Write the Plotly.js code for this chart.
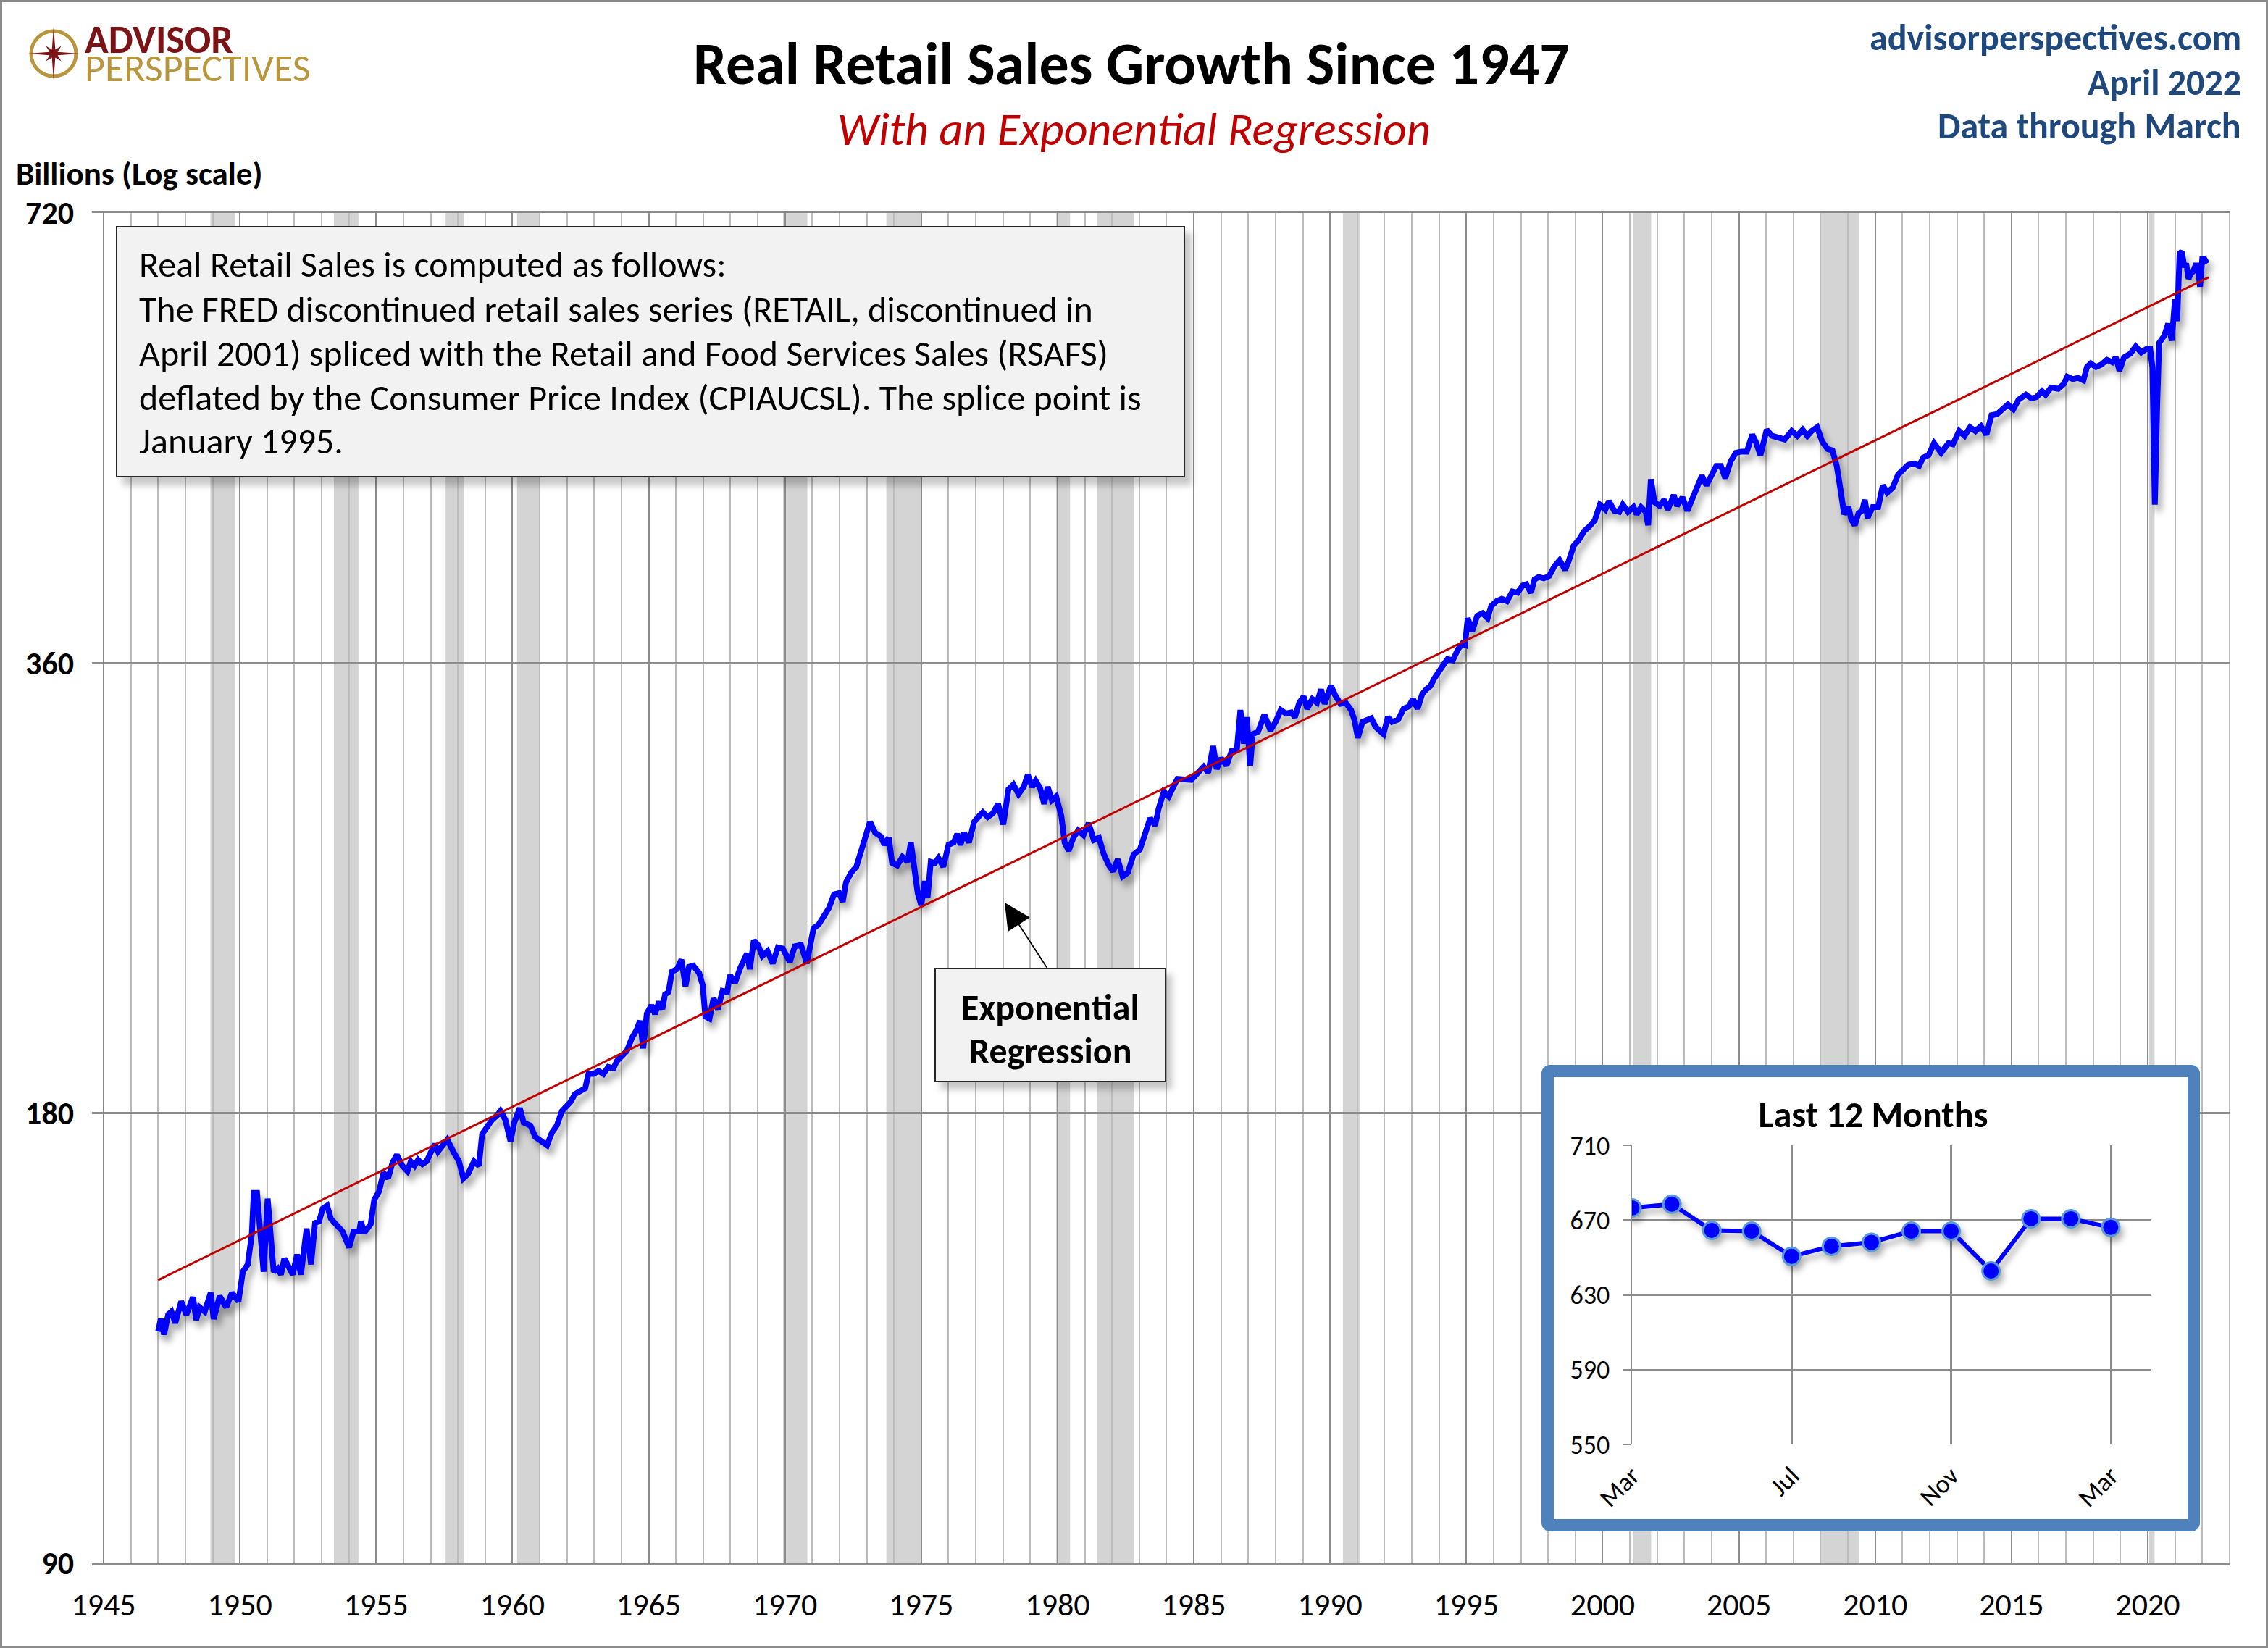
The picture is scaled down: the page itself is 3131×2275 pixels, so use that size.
<!DOCTYPE html>
<html><head><meta charset="utf-8">
<script src="https://cdn.plot.ly/plotly-3.0.1.min.js"></script>
<style>
html,body{margin:0;padding:0;background:#fff;}
#wrap{position:relative;width:3131px;height:2275px;overflow:hidden;background:#fff;}
#main{position:absolute;left:0;top:0;width:3131px;height:2275px;}
#inset{position:absolute;left:2128px;top:1470px;width:909px;height:644px;box-sizing:border-box;border:17px solid #4F81BD;border-radius:12px;background:#fff;}
#frame{position:absolute;left:0;top:0;width:3131px;height:2275px;box-sizing:border-box;border:3px solid #8C8C8C;pointer-events:none;}
</style></head>
<body>
<div id="wrap"><div id="main"></div><div id="inset"></div><div id="frame"></div></div>
<script>
// ---------------- DATA ----------------
const years = [
1947.00,1947.10,1947.22,1947.37,1947.49,1947.63,1947.85,1948.04,1948.28,1948.40,1948.52,1948.71,1948.93,1949.04,1949.26,1949.50,1949.71,1949.95,
1950.11,1950.29,1950.44,1950.51,1950.63,1950.76,1950.87,1951.02,1951.12,1951.24,1951.39,1951.51,1951.63,1951.78,1951.94,1952.10,1952.24,1952.45,1952.61,1952.76,1952.91,
1953.04,1953.20,1953.34,1953.59,1953.77,1954.01,1954.17,1954.38,1954.44,1954.56,1954.80,1954.93,1955.11,1955.27,1955.44,1955.60,1955.76,1955.96,
1956.15,1956.27,1956.41,1956.54,1956.70,1956.85,1957.00,1957.15,1957.27,1957.43,1957.61,1957.85,1958.04,1958.20,1958.37,1958.59,1958.77,1958.89,
1959.07,1959.26,1959.44,1959.56,1959.74,1959.93,1960.07,1960.27,1960.41,1960.66,1960.84,1961.09,1961.27,1961.45,1961.63,1961.82,1961.98,
1962.12,1962.30,1962.49,1962.67,1962.79,1962.98,1963.16,1963.34,1963.52,1963.71,1963.83,1964.01,1964.20,1964.38,1964.56,1964.68,1964.80,1964.93,
1965.10,1965.23,1965.38,1965.50,1965.60,1965.73,1965.85,1966.04,1966.20,1966.35,1966.48,1966.63,1966.85,1966.98,1967.08,1967.23,1967.38,1967.54,1967.71,1967.88,1967.98,
1968.17,1968.36,1968.61,1968.71,1968.86,1969.01,1969.17,1969.36,1969.55,1969.74,1969.92,1970.18,1970.36,1970.59,1970.80,1970.93,
1971.05,1971.24,1971.43,1971.62,1971.80,1971.99,1972.12,1972.24,1972.43,1972.62,1972.81,1972.97,1973.12,1973.31,1973.52,1973.65,1973.81,1973.93,
1974.12,1974.31,1974.50,1974.62,1974.75,1974.87,1975.00,1975.13,1975.23,1975.35,1975.50,1975.63,1975.81,1976.00,1976.19,1976.32,1976.44,1976.57,1976.75,1976.94,
1977.13,1977.26,1977.44,1977.63,1977.82,1978.01,1978.20,1978.38,1978.57,1978.76,1978.91,1979.07,1979.20,1979.36,1979.51,1979.64,1979.79,1979.95,
1980.14,1980.26,1980.41,1980.58,1980.76,1980.95,1981.14,1981.33,1981.52,1981.70,1981.89,1982.04,1982.21,1982.39,1982.58,1982.79,
1983.02,1983.21,1983.40,1983.58,1983.71,1983.90,1984.08,1984.25,1984.40,1984.91,
1985.10,1985.36,1985.53,1985.71,1985.84,1986.00,1986.20,1986.39,1986.58,1986.71,1986.84,1986.94,1987.07,1987.16,1987.36,1987.59,1987.81,
1988.00,1988.19,1988.38,1988.58,1988.71,1988.87,1989.03,1989.16,1989.35,1989.52,1989.67,1989.80,1990.03,1990.19,1990.38,1990.57,1990.77,1990.89,
1991.02,1991.19,1991.34,1991.51,1991.67,1991.80,1991.96,1992.12,1992.27,1992.50,1992.70,1992.89,1993.04,1993.21,1993.38,1993.53,1993.69,1993.82,1993.98,
1994.15,1994.31,1994.50,1994.69,1994.85,1994.95,1995.05,1995.21,1995.40,1995.59,1995.78,1995.91,1996.11,1996.30,1996.49,1996.69,1996.88,
1997.07,1997.20,1997.37,1997.50,1997.65,1997.84,1998.04,1998.23,1998.42,1998.62,1998.75,1998.94,1999.13,1999.32,1999.52,1999.71,1999.90,
2000.10,2000.23,2000.42,2000.61,2000.74,2000.93,2001.13,2001.25,2001.41,2001.58,2001.67,2001.77,2001.90,2002.09,2002.26,2002.39,2002.61,2002.73,2002.93,
2003.11,2003.31,2003.51,2003.64,2003.81,2003.97,2004.17,2004.34,2004.50,2004.70,2004.89,2005.09,2005.29,2005.49,2005.62,2005.79,
2006.02,2006.22,2006.41,2006.68,2006.94,2007.14,2007.34,2007.51,2007.67,2007.87,2008.06,2008.26,2008.43,2008.59,2008.73,2008.86,
2009.02,2009.12,2009.25,2009.39,2009.52,2009.62,2009.72,2009.91,2010.11,2010.28,2010.44,2010.64,2010.84,2011.00,2011.21,2011.43,2011.61,2011.76,2011.96,
2012.16,2012.42,2012.69,2012.85,2013.08,2013.28,2013.48,2013.68,2013.88,2014.08,2014.27,2014.47,2014.67,2014.87,
2015.07,2015.26,2015.53,2015.73,2015.92,2016.12,2016.25,2016.45,2016.72,2016.92,2017.05,2017.25,2017.44,2017.64,2017.77,2017.91,
2018.10,2018.30,2018.50,2018.70,2018.83,2018.96,2019.13,2019.36,2019.56,2019.76,2019.95,2020.09,2020.17,2020.26,2020.35,2020.42,2020.61,2020.75,2020.88,
2021.00,2021.08,2021.17,2021.25,2021.33,2021.42,2021.50,2021.58,2021.67,2021.75,2021.83,2021.92,2022.00,2022.08,2022.17
];
const sales = [
128.6,131.1,128.0,132.0,132.6,130.3,134.7,132.0,135.6,130.9,133.5,132.6,136.5,131.1,135.8,133.5,136.5,134.7,
141.0,142.6,149.4,159.2,159.2,150.0,141.0,157.8,151.4,141.0,141.7,140.4,143.9,142.3,140.4,144.8,140.4,150.7,142.6,152.0,152.4,
155.4,156.1,153.0,151.0,150.0,146.4,150.0,150.0,152.4,149.7,151.7,157.5,159.6,164.2,162.8,166.8,168.8,166.0,
164.6,167.1,166.0,167.5,166.4,167.1,169.4,171.6,169.7,171.3,172.8,169.4,167.1,162.8,163.9,167.1,166.0,174.3,
176.2,178.2,179.4,180.6,178.2,172.4,177.4,181.4,177.4,176.6,173.5,172.0,171.3,174.7,176.6,180.6,181.7,
183.0,185.4,186.2,187.0,191.2,191.2,192.1,191.2,193.3,192.9,195.0,196.3,198.1,202.0,204.7,207.5,198.9,209.8,
212.5,209.7,213.7,211.3,216.1,216.9,223.8,224.7,228.0,218.9,225.5,225.9,223.4,219.3,208.9,208.2,214.8,211.3,217.3,216.9,222.6,
220.1,225.1,230.2,224.7,234.9,233.2,229.3,231.0,226.7,232.3,231.9,227.2,232.7,233.2,226.7,232.3,
239.3,240.7,244.3,247.0,252.1,252.6,249.3,256.8,260.7,263.1,270.1,277.2,281.9,277.2,275.6,272.1,275.1,264.6,
263.6,267.1,265.1,273.1,261.2,252.6,247.9,257.3,250.7,265.1,264.6,266.6,263.1,272.1,273.1,276.7,272.1,277.2,273.1,281.9,
284.5,286.1,284.0,285.6,289.8,280.8,296.4,298.6,294.2,297.5,303.1,297.5,300.3,296.9,289.8,297.5,291.5,293.1,
284.5,273.1,269.6,275.1,278.2,276.2,281.3,274.1,275.1,268.1,263.6,261.2,266.1,259.2,260.7,268.1,
270.1,277.2,283.5,280.3,287.7,295.3,293.1,297.5,301.2,300.7,
303.5,306.9,304.1,316.8,305.8,310.9,307.5,314.4,315.0,334.9,318.0,331.2,307.5,322.7,323.9,332.5,324.5,
328.8,334.9,333.1,333.7,331.2,338.7,341.9,335.6,340.6,338.7,345.7,338.1,347.6,342.5,338.1,338.7,334.9,330.0,
320.9,328.8,330.0,330.6,326.3,324.5,322.7,331.2,328.8,330.0,335.6,336.8,340.6,335.6,343.2,345.7,347.6,351.5,355.5,
358.8,362.2,361.5,367.6,371.0,370.3,385.8,378.0,387.2,388.7,385.8,393.0,396.0,397.4,396.0,401.9,401.2,
405.7,406.4,401.2,409.4,411.0,410.2,411.7,417.9,421.8,415.6,421.0,431.3,435.3,441.0,444.4,448.5,459.4,
456.0,462.0,455.2,454.4,459.4,454.4,457.7,452.7,457.7,454.4,445.1,477.8,461.2,458.6,462.9,456.0,466.3,458.6,464.6,
455.2,464.6,475.1,480.4,473.3,479.5,487.7,487.7,478.6,491.3,497.7,498.6,498.6,511.8,506.1,495.9,
515.6,510.8,509.9,508.0,514.6,510.8,515.6,510.8,514.6,517.6,506.1,500.5,499.5,487.7,469.8,452.7,
457.8,449.3,445.2,453.5,455.2,462.9,450.1,457.8,457.8,473.3,468.1,471.6,481.3,484.0,488.5,489.5,487.7,494.0,495.9,
505.1,497.7,505.1,504.2,514.6,510.8,517.6,514.6,518.5,511.8,527.3,528.2,532.2,536.1,
532.2,540.1,544.2,541.1,542.2,547.2,544.2,550.2,549.2,553.3,559.6,557.5,558.5,556.4,567.9,571.1,
567.9,570.1,574.3,572.2,576.5,564.8,576.5,579.7,586.2,580.8,584.0,584.0,567.9,459.4,539.1,589.5,596.1,607.2,591.6,
630.3,609.5,676.5,678.5,664.5,664.1,650.6,656.0,658.1,664.1,664.1,642.8,670.7,670.7,666.1
];
const regYears = [1947.0, 2022.23];
const regValues = [139.2, 652.0];
const recessionStart = [1948.92,1953.45,1957.55,1960.17,1969.93,1973.72,1979.95,1981.45,1990.47,2001.13,2008.00,2020.05];
const recessionEnd   = [1949.82,1954.35,1958.23,1961.00,1970.82,1975.02,1980.46,1982.80,1991.10,2001.78,2009.42,2020.25];
const yTickValues = [90,180,360,720];
const insetMonths = ['Mar','Apr','May','Jun','Jul','Aug','Sep','Oct','Nov','Dec','Jan','Feb','Mar'];
const insetValues = [676.5,678.5,664.5,664.1,650.6,656.0,658.1,664.1,664.1,642.8,670.7,670.7,666.1];
const insetYTicks = [550,590,630,670,710];
const noteLines = [
 'Real Retail Sales is computed as follows:',
 'The FRED discontinued retail sales series (RETAIL, discontinued in',
 'April 2001) spliced with the Retail and Food Services Sales (RSAFS)',
 'deflated by the Consumer Price Index (CPIAUCSL). The splice point is',
 'January 1995.'
];
const titleText = 'Real Retail Sales Growth Since 1947';
const subtitleText = 'With an Exponential Regression';
const sourceLines = ['advisorperspectives.com','April 2022','Data through March'];

// ---------------- LAYOUT HELPERS ----------------
const FONT = 'Carlito, Lato, "Open Sans", sans-serif';
const L = 127, T = 294, R = 52, B = 117, WID = 3131, HEI = 2275;
const PW = WID - L - R, PH = HEI - T - B;
const px = x => (x - L) / PW;
const py = y => (T + PH - y) / PH;

const shapes = [];
recessionStart.forEach((s, i) => {
  shapes.push({type:'rect', xref:'x', yref:'paper', x0:s, x1:recessionEnd[i], y0:0, y1:1,
    fillcolor:'#D4D4D4', line:{width:0}, layer:'below'});
});
// note box with shadow
shapes.push({type:'rect', xref:'paper', yref:'paper', x0:px(169), x1:px(1645), y0:py(670), y1:py(321),
  fillcolor:'rgba(0,0,0,0.22)', line:{width:0}, layer:'above'});
shapes.push({type:'rect', xref:'paper', yref:'paper', x0:px(161), x1:px(1635), y0:py(658), y1:py(313),
  fillcolor:'#F2F2F2', line:{color:'#262626', width:2}, layer:'above'});
// regression label box
shapes.push({type:'rect', xref:'paper', yref:'paper', x0:px(1298), x1:px(1618), y0:py(1504), y1:py(1345),
  fillcolor:'rgba(0,0,0,0.22)', line:{width:0}, layer:'above'});
shapes.push({type:'rect', xref:'paper', yref:'paper', x0:px(1291), x1:px(1609), y0:py(1493), y1:py(1337),
  fillcolor:'#F2F2F2', line:{color:'#262626', width:2}, layer:'above'});
// logo compass
shapes.push({type:'circle', xref:'paper', yref:'paper', x0:px(43), x1:px(105), y0:py(105), y1:py(43),
  line:{color:'#B8963E', width:5}, fillcolor:'rgba(0,0,0,0)', layer:'above'});
(function(){
  const cx = 74, cy = 74;
  const outer = [37, 15, 36, 15, 37, 15, 36, 15];
  let d = '';
  for (let k = 0; k < 16; k++) {
    const ang = k * Math.PI / 8;
    const r = (k % 2 === 0) ? outer[k/2] : 6;
    const X = cx + r * Math.sin(ang), Y = cy - r * Math.cos(ang);
    d += (k === 0 ? 'M ' : ' L ') + px(X).toFixed(6) + ',' + py(Y).toFixed(6);
  }
  shapes.push({type:'path', xref:'paper', yref:'paper', path: d + ' Z', fillcolor:'#7B1416', line:{width:0}, layer:'above'});
})();

const ann = [];
ann.push({xref:'paper', yref:'paper', x:px(1562), y:py(88), text:'<b>'+titleText+'</b>', showarrow:false,
  xanchor:'center', yanchor:'middle', font:{family:FONT, size:82, color:'#000'}});
ann.push({xref:'paper', yref:'paper', x:px(1565), y:py(178), text:'<i>'+subtitleText+'</i>', showarrow:false,
  xanchor:'center', yanchor:'middle', font:{family:FONT, size:64, color:'#C00000'}});
[52, 114, 173].forEach((yy, i) => ann.push({xref:'paper', yref:'paper', x:px(3096), y:py(yy),
  text:'<b>'+sourceLines[i]+'</b>', showarrow:false, xanchor:'right', yanchor:'middle',
  font:{family:FONT, size:50, color:'#1F497D'}}));
ann.push({xref:'paper', yref:'paper', x:px(20), y:py(240), text:'<b>Billions (Log scale)</b>', showarrow:false,
  xanchor:'left', yanchor:'middle', font:{family:FONT, size:45, color:'#000'}});
ann.push({xref:'paper', yref:'paper', x:px(115), y:py(55), text:'<b>ADVISOR</b>', showarrow:false,
  xanchor:'left', yanchor:'middle', font:{family:FONT, size:54, color:'#7B1416'}});
ann.push({xref:'paper', yref:'paper', x:px(115), y:py(94), text:'PERSPECTIVES', showarrow:false,
  xanchor:'left', yanchor:'middle', font:{family:FONT, size:54, color:'#B8963E'}});
[365, 426, 487, 548, 608].forEach((yy, i) => ann.push({xref:'paper', yref:'paper', x:px(190), y:py(yy),
  text:noteLines[i], showarrow:false, xanchor:'left', yanchor:'middle',
  font:{family:FONT, size:50, color:'#000'}}));
ann.push({xref:'paper', yref:'paper', x:px(1450), y:py(1390), text:'<b>Exponential</b>', showarrow:false,
  xanchor:'center', yanchor:'middle', font:{family:FONT, size:50, color:'#000'}});
ann.push({xref:'paper', yref:'paper', x:px(1450), y:py(1450), text:'<b>Regression</b>', showarrow:false,
  xanchor:'center', yanchor:'middle', font:{family:FONT, size:50, color:'#000'}});
ann.push({xref:'paper', yref:'paper', x:px(1387), y:py(1246), ax:59, ay:91, text:'', showarrow:true,
  arrowhead:2, arrowsize:4, arrowwidth:1.8, arrowcolor:'#000', standoff:0});

const traces = [
  {x:years, y:sales, type:'scatter', mode:'lines', line:{color:'#0000FF', width:8}, hoverinfo:'skip'},
  {x:regYears, y:regValues, type:'scatter', mode:'lines', line:{color:'#C00000', width:3}, hoverinfo:'skip'}
];

const layout = {
  width:WID, height:HEI, margin:{l:L, r:R, t:T, b:B},
  paper_bgcolor:'rgba(0,0,0,0)', plot_bgcolor:'#FFFFFF', showlegend:false,
  font:{family:FONT, color:'#000'},
  xaxis:{range:[1944.575, 2023.03], tickmode:'linear', tick0:1945, dtick:5,
    showgrid:true, gridcolor:'#8C8C8C', gridwidth:2,
    minor:{tick0:1945, dtick:1, showgrid:true, gridcolor:'#BDBDBD', gridwidth:2, ticks:''},
    showline:true, mirror:true, linecolor:'#8C8C8C', linewidth:3, ticks:'', zeroline:false,
    tickfont:{family:FONT, size:44, color:'#000'}, ticklabelstandoff:16, fixedrange:true},
  yaxis:{type:'log', range:[Math.log10(90), Math.log10(720)], tickmode:'array',
    tickvals:yTickValues, ticktext:yTickValues.map(String),
    showgrid:true, gridcolor:'#8C8C8C', gridwidth:3, zeroline:false, showline:false, ticks:'',
    tickfont:{family:FONT, size:44, color:'#000', weight:700}, ticklabelstandoff:24, fixedrange:true},
  shapes:shapes, annotations:ann
};

Plotly.newPlot('main', traces, layout, {staticPlot:true, displayModeBar:false}).then(() => {
  const tr = document.querySelectorAll('#main .scatterlayer .trace');
  if (tr[0]) tr[0].style.filter = 'drop-shadow(5px 9px 5px rgba(0,0,0,0.35))';
  document.querySelectorAll('#main .shapelayer path').forEach(p => {
    const f = p.getAttribute('style') || '';
    if (f.indexOf('0.22') >= 0) p.style.filter = 'blur(5px)';
  });
});

// ---------------- INSET ----------------
const IW = 875, IH = 610;
const insetX = insetMonths.map((m, i) => i);
const insetTickIdx = [0, 4, 8, 12];
Plotly.newPlot('inset', [{
  x:insetX, y:insetValues, type:'scatter', mode:'lines+markers',
  line:{color:'#0000FF', width:6},
  marker:{size:24, color:'#0000FF', line:{color:'#5B9BD5', width:3}}, hoverinfo:'skip'
}], {
  width:IW, height:IH, margin:{l:108, r:51, t:94, b:103},
  paper_bgcolor:'#FFFFFF', plot_bgcolor:'#FFFFFF', showlegend:false,
  font:{family:FONT, color:'#000'},
  title:{text:'<b>Last 12 Months</b>', font:{family:FONT, size:50, color:'#000'},
    xref:'container', yref:'container', x:441/IW, y:1 - 51/IH, xanchor:'center', yanchor:'middle'},
  xaxis:{range:[0, 13], tickmode:'array', tickvals:insetTickIdx, ticktext:insetTickIdx.map(i => insetMonths[i]),
    showgrid:true, gridcolor:'#8C8C8C', gridwidth:2.5, zeroline:false, ticks:'', tickangle:-45,
    tickfont:{family:FONT, size:36, color:'#000'}, ticklabelstandoff:14, fixedrange:true},
  yaxis:{range:[550, 710], tickmode:'array', tickvals:insetYTicks, ticktext:insetYTicks.map(String),
    showgrid:true, gridcolor:'#8C8C8C', gridwidth:2.5, zeroline:false,
    showline:true, linecolor:'#8C8C8C', linewidth:2.5,
    ticks:'outside', ticklen:11, tickcolor:'#8C8C8C', tickwidth:2.5,
    tickfont:{family:FONT, size:36, color:'#000'}, ticklabelstandoff:10, fixedrange:true}
}, {staticPlot:true, displayModeBar:false}).then(() => {
  const tr = document.querySelectorAll('#inset .scatterlayer .trace');
  if (tr[0]) tr[0].style.filter = 'drop-shadow(4px 7px 4px rgba(0,0,0,0.3))';
});
</script>
</body></html>
